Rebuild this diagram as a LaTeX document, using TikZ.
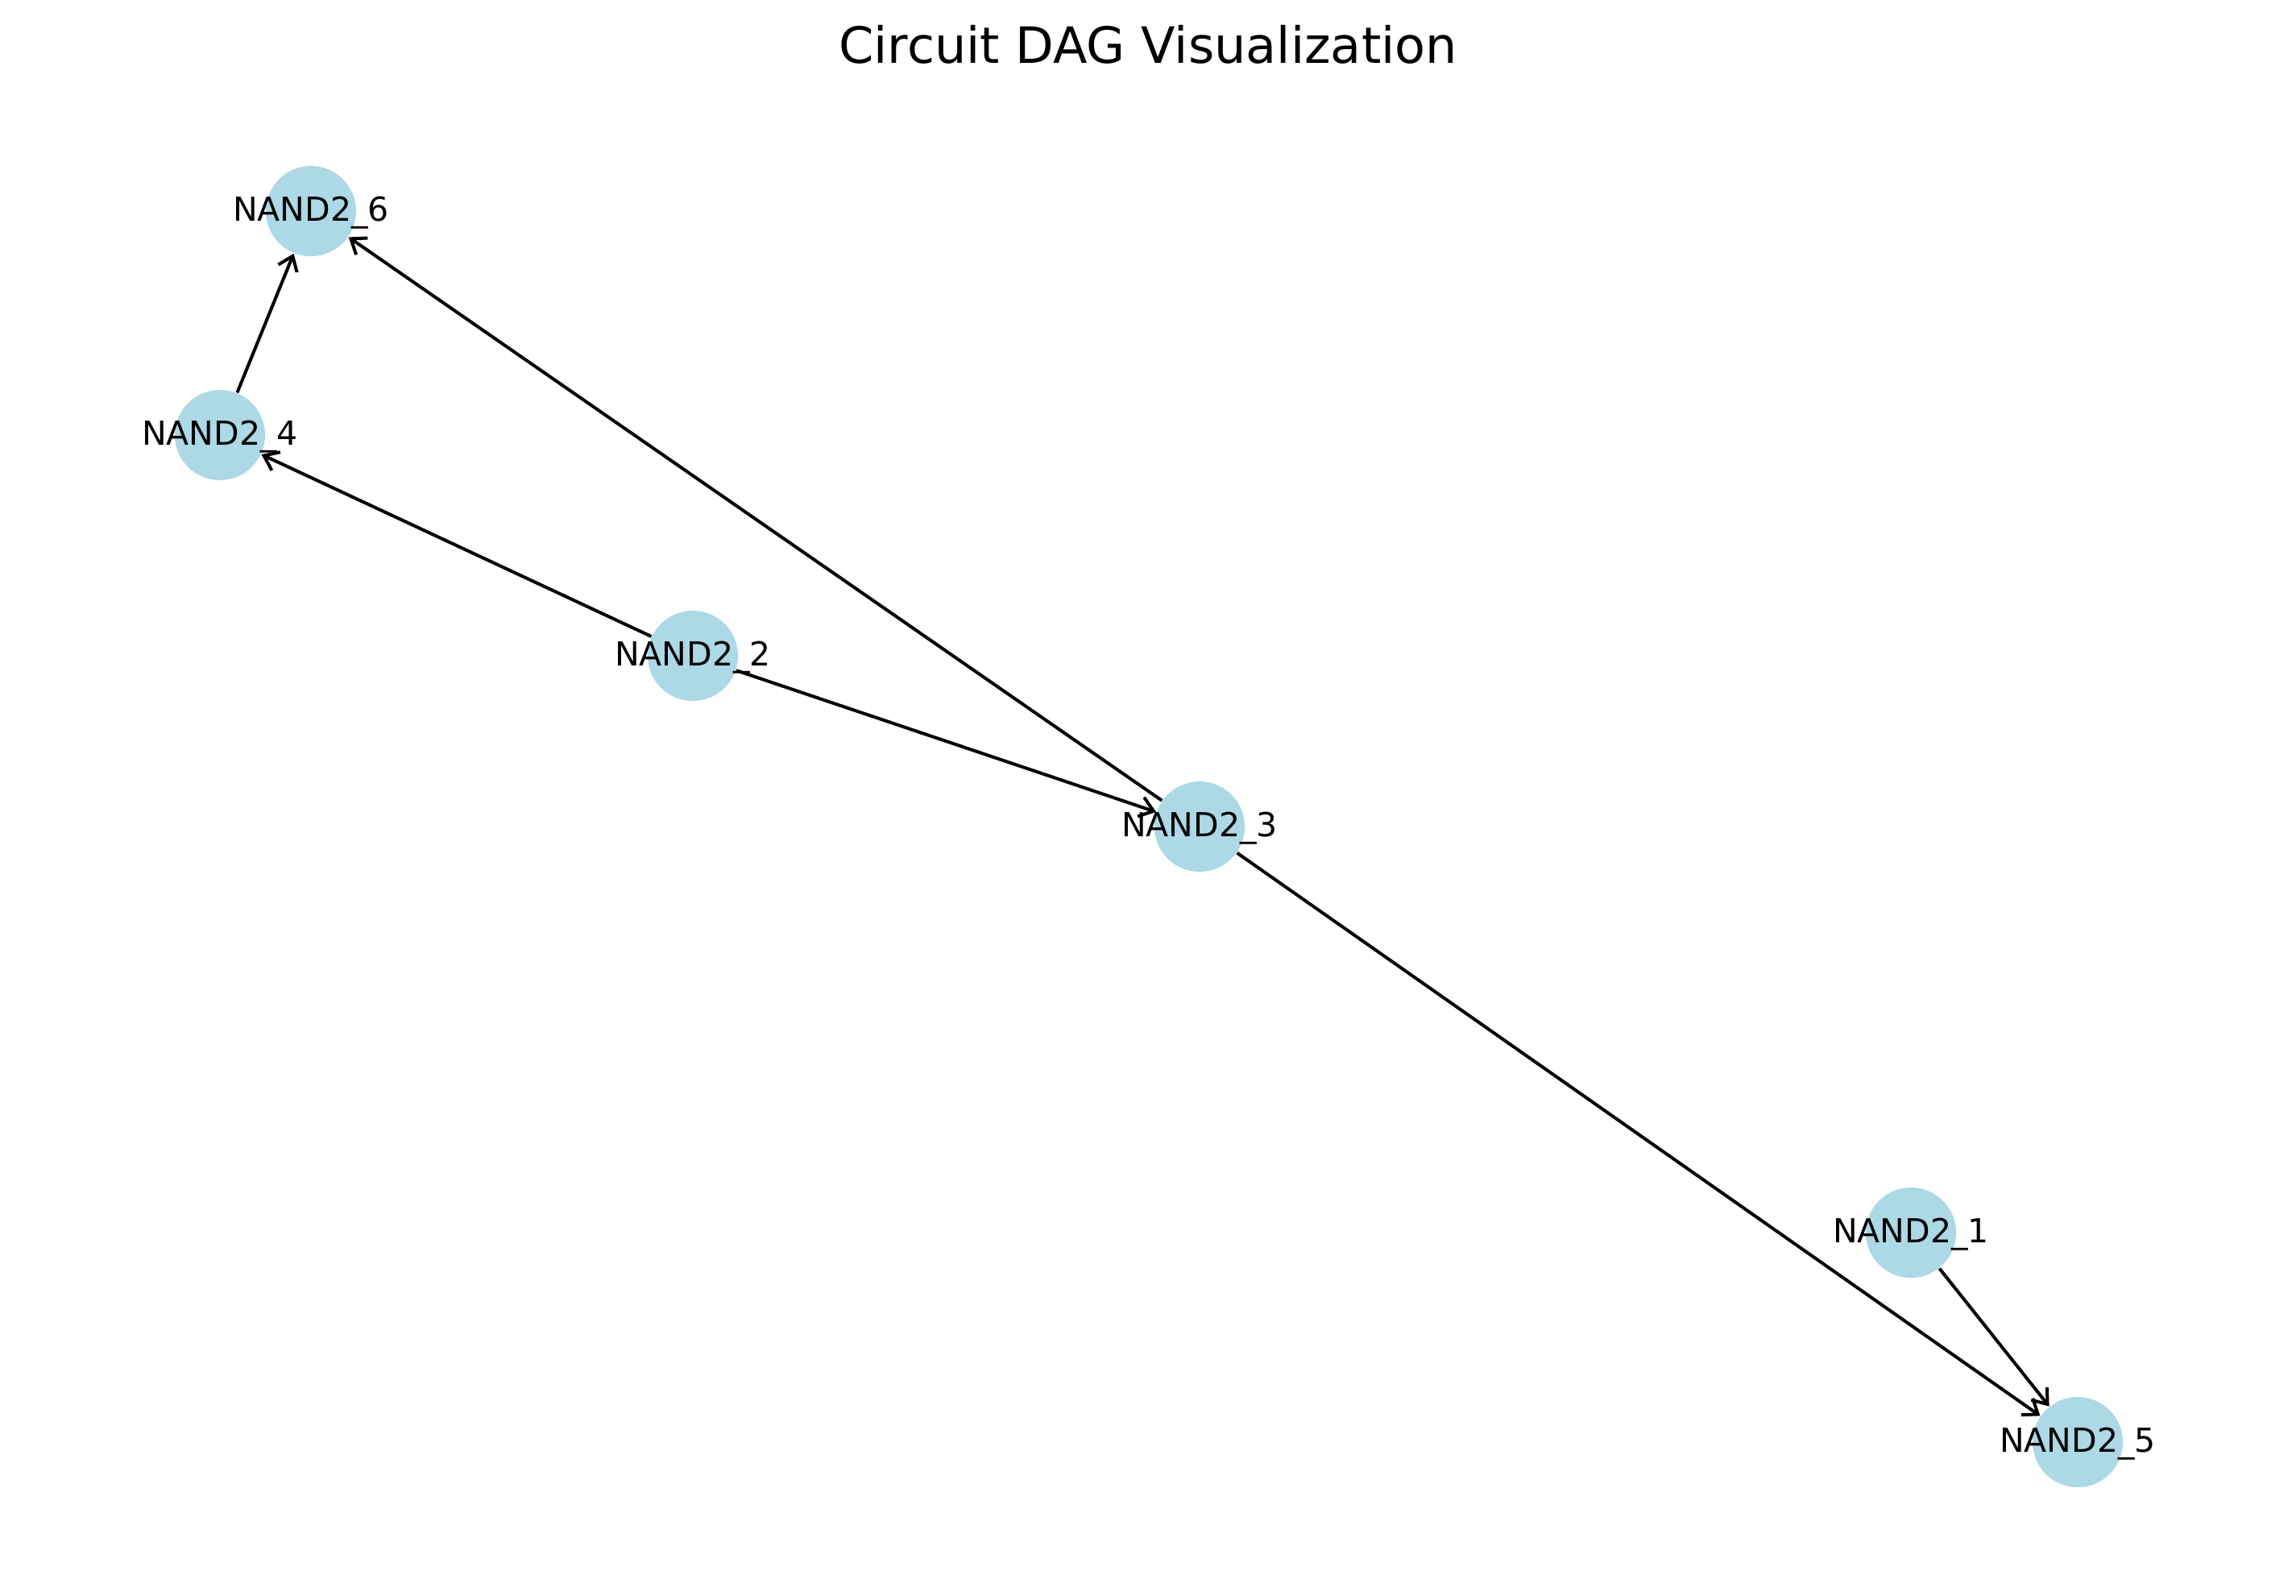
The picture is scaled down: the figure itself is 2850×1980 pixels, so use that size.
\documentclass[tikz,border=0pt]{standalone}
\usepackage{fontspec}
\setmainfont{DejaVu Sans}
\usepackage{tikz}
\usetikzlibrary{arrows.meta,backgrounds}
\usepackage{xcolor}
\definecolor{gatefill}{RGB}{173,216,230}
\tikzset{
	gate/.style={circle, fill=gatefill, draw=none, minimum size=26.9pt, inner sep=0pt},
	wire/.style={black, line width=0.96pt, -{Straight Barb[length=4pt,width=6pt]}},
}
\newcommand{\gatefont}{\fontsize{9.85}{11}\selectfont}

\begin{document}
\begin{tikzpicture} [x=0.24pt, y=-0.24pt]
	\useasboundingbox (0, 0) rectangle (2850, 1980);
	\node [font=\fontsize{14.9}{18}\selectfont, anchor=base] (title) at (1425, 78) {Circuit DAG Visualization};
	\node [gate, label={[font=\gatefont, yshift=-0.4pt]center:NAND2\_1}] (g1) at (2372, 1530) {};
	\node [gate, label={[font=\gatefont, yshift=-0.4pt]center:NAND2\_2}] (g2) at (860, 814) {};
	\node [gate, label={[font=\gatefont, yshift=-0.4pt]center:NAND2\_3}] (g3) at (1489, 1026) {};
	\node [gate, label={[font=\gatefont, yshift=-0.4pt]center:NAND2\_4}] (g4) at (273, 540) {};
	\node [gate, label={[font=\gatefont, yshift=-0.4pt]center:NAND2\_5}] (g5) at (2579, 1790) {};
	\node [gate, label={[font=\gatefont, yshift=-0.4pt]center:NAND2\_6}] (g6) at (386, 262) {};
	\begin{scope}[on background layer]
		\draw [wire] (g4)--(g6);
		\draw [wire] (g2)--(g4);
		\draw [wire] (g2)--(g3);
		\draw [wire] (g3)--(g6);
		\draw [wire] (g3)--(g5);
		\draw [wire] (g1)--(g5);
	\end{scope}
\end{tikzpicture}
\end{document}
